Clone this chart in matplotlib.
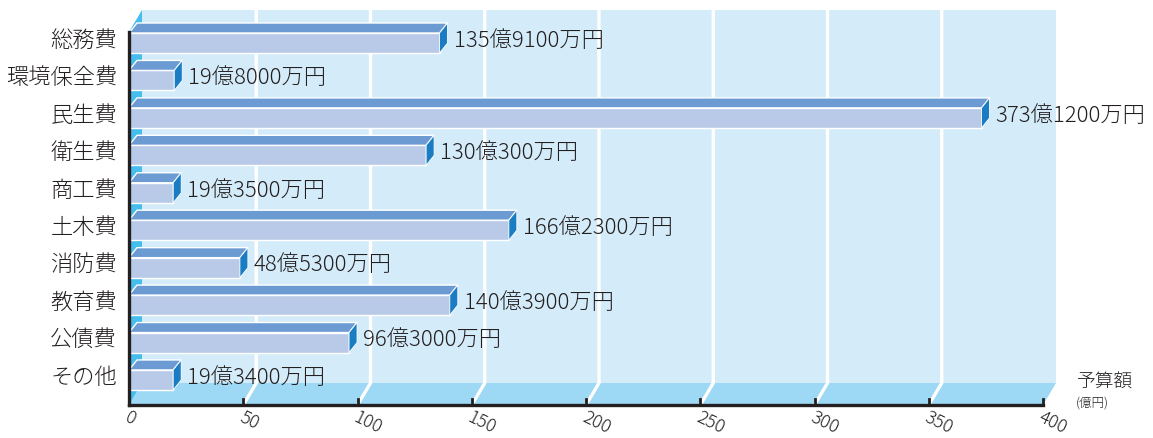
import matplotlib
matplotlib.use("Agg")
import matplotlib.pyplot as plt
from matplotlib.patches import Polygon
from matplotlib.transforms import offset_copy

plt.rcParams['font.family'] = ['Noto Sans CJK JP', 'DejaVu Sans']
plt.rcParams['font.weight'] = 300

# 予算額（億円＋万円）
categories = ['総務費', '環境保全費', '民生費', '衛生費', '商工費',
              '土木費', '消防費', '教育費', '公債費', 'その他']
oku = [135, 19, 373, 130, 19, 166, 48, 140, 96, 19]
man = [9100, 8000, 1200, 300, 3500, 2300, 5300, 3900, 3000, 3400]
values = [o + m / 10000 for o, m in zip(oku, man)]
ticks = [0, 50, 100, 150, 200, 250, 300, 350, 400]

# 色
c_wall = '#D4ECF9'
c_floor = '#9DD8F4'
c_side = '#45BEEE'
c_front = '#B8CAE8'
c_top = '#6B9BD2'
c_end = '#1A7DC4'
c_text = '#231F20'

W, H = 1153, 438
fig = plt.figure(figsize=(W / 100, H / 100), dpi=100)

# 軸の配置（ピクセル）
left_px, right_px = 129, 1043
top_px, bot_px = 10, 405
row0_px, row_step = 43, 37.44
ax = fig.add_axes([left_px / W, (H - bot_px) / H,
                   (right_px - left_px) / W, (bot_px - top_px) / H])
y_bot = (bot_px - row0_px) / row_step
y_top = (top_px - row0_px) / row_step
ax.set_xlim(0, 400)
ax.set_ylim(y_bot, y_top)
ax.axis('off')

ux = 400 / (right_px - left_px)   # 1px あたりのデータ単位
uy = 1 / row_step

def off(dx, dy):
    return offset_copy(ax.transData, fig=fig, x=dx, y=dy, units='dots')

# 奥行き
DX, DY = 13 * ux, 22 * uy
xmax = ticks[-1]

# 背面の壁
ax.add_patch(Polygon([(DX, y_bot - DY), (xmax + DX, y_bot - DY),
                      (xmax + DX, y_top), (DX, y_top)],
                     closed=True, facecolor=c_wall, edgecolor='none',
                     zorder=0, clip_on=False))
# 床
ax.add_patch(Polygon([(0, y_bot), (xmax, y_bot), (xmax + DX, y_bot - DY),
                      (DX, y_bot - DY)],
                     closed=True, facecolor=c_floor, edgecolor='none',
                     zorder=1, clip_on=False))
# 目盛りの白線
for t in ticks[1:-1]:
    ax.plot([t, t + DX, t + DX], [y_bot, y_bot - DY, y_top],
            color='white', lw=2.4, zorder=2, clip_on=False,
            solid_joinstyle='miter')
# 左側の壁
ax.add_patch(Polygon([(0, y_bot), (0, y_top + DY), (DX, y_top),
                      (DX, y_bot - DY)],
                     closed=True, facecolor=c_side, edgecolor='none',
                     zorder=3, clip_on=False))

# 立体の棒
h = 10 * uy           # 前面の半分の高さ
bx, by = 8 * ux, 10 * uy
for i, (v, o, m) in enumerate(zip(values, oku, man)):
    y0, y1 = i - h, i + h
    ax.add_patch(Polygon([(0, y1), (v, y1), (v, y0), (0, y0)],
                         closed=True, facecolor=c_front, edgecolor='white',
                         lw=1.0, zorder=4, clip_on=False))
    ax.add_patch(Polygon([(0, y0), (v, y0), (v + bx, y0 - by), (bx, y0 - by)],
                         closed=True, facecolor=c_top, edgecolor='white',
                         lw=1.0, zorder=4, clip_on=False))
    ax.add_patch(Polygon([(v, y0), (v + bx, y0 - by), (v + bx, y1 - by),
                          (v, y1)],
                         closed=True, facecolor=c_end, edgecolor='white',
                         lw=0.6, zorder=4, clip_on=False))
    ax.text(v, i - 0.06, f'{o}億{m}万円', transform=off(14, 0),
            ha='left', va='center', fontsize=16, color=c_text, zorder=6)
    ax.text(0, i - 0.06, categories[i], transform=off(-12, 0),
            ha='right', va='center', fontsize=16, color=c_text)

# 軸線と目盛り
ax.plot([0, xmax], [y_bot, y_bot], color=c_text, lw=2.4, zorder=5,
        clip_on=False, solid_capstyle='projecting')
ax.plot([0, 0], [y_bot, y_top + DY], color=c_text, lw=2.4, zorder=5,
        clip_on=False)
for t in ticks[1:]:
    ax.plot([t, t], [y_bot, y_bot - 6 * uy], color=c_text, lw=2.0,
            zorder=5, clip_on=False)
for t in ticks:
    ax.text(t, y_bot, str(t), transform=off(1, -3), rotation=-26,
            rotation_mode='anchor', ha='left', va='top', fontsize=13,
            color=c_text)

ax.text(xmax, y_bot, '予算額', transform=off(34, 23), ha='left',
        va='center', fontsize=13.5, color=c_text)
ax.text(xmax, y_bot, '(億円)', transform=off(33, 2), ha='left',
        va='center', fontsize=9, color=c_text)

fig.savefig('out.png', dpi=100)
